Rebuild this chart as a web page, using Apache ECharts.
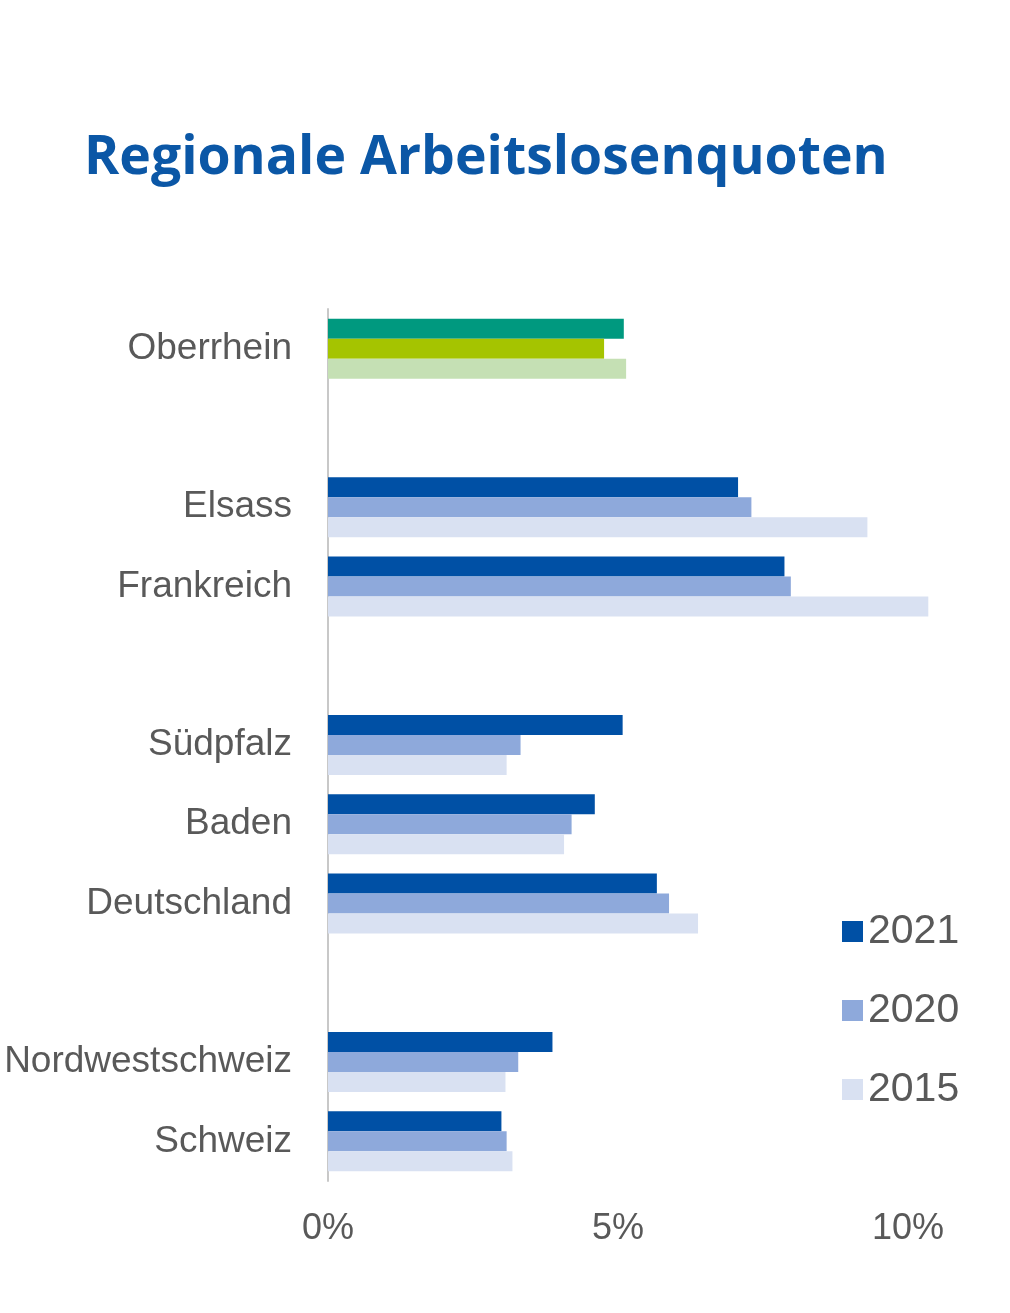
<!DOCTYPE html>
<html>
<head>
<meta charset="utf-8">
<script src="https://cdn.jsdelivr.net/npm/echarts@6/dist/echarts.min.js"></script>
<style>
  html, body { margin: 0; padding: 0; background: #fff; }
  #chart { width: 1010px; height: 1313px; }
</style>
</head>
<body>
<div id="chart"></div>
<script>
// empty strings are the gaps between the country groups
const regions = ['Oberrhein', '', 'Elsass', 'Frankreich', '', 'Südpfalz', 'Baden', 'Deutschland', '', 'Nordwestschweiz', 'Schweiz']
const years = ['2021', '2020', '2015']
const q2021 = [5.1, null, 7.07, 7.87, null, 5.08, 4.6, 5.67, null, 3.87, 2.99]
const q2020 = [4.76, null, 7.3, 7.98, null, 3.32, 4.2, 5.88, null, 3.28, 3.08]
const q2015 = [5.14, null, 9.3, 10.35, null, 3.08, 4.07, 6.38, null, 3.06, 3.18]
const xTicks = [0, 5, 10]

const colors = ['#0050A5', '#8EA9DB', '#D9E1F2']
const oberrheinColors = ['#00997F', '#A5C400', '#C5E0B4']

const textColor = '#595959'
const font = 'Liberation Sans, Arial, sans-serif'

const makeSeries = (name, values, i) => ({
    name,
    type: 'bar',
    barWidth: 20,
    barGap: '0%',
    data: values.map((v, k) => regions[k] === 'Oberrhein'
        ? { value: v, itemStyle: { color: oberrheinColors[i] } }
        : v),
    itemStyle: { color: colors[i] }
})

var myChart = echarts.init(document.getElementById('chart'))
var option = {
    animation: false,
    backgroundColor: '#fff',
    title: {
        text: 'Regionale Arbeitslosenquoten',
        left: 79,
        top: 127,
        textStyle: {
            fontFamily: 'Open Sans, sans-serif',
            fontWeight: 'bold',
            fontSize: 53.5,
            color: '#0B57A6'
        }
    },
    legend: {
        orient: 'vertical',
        left: 837,
        top: 906,
        itemWidth: 21,
        itemHeight: 21,
        itemGap: 38,
        icon: 'rect',
        data: years,
        textStyle: { fontFamily: font, fontSize: 41, color: textColor }
    },
    grid: { left: 328, right: 44, top: 309, bottom: 132 },
    xAxis: {
        type: 'value',
        min: 0,
        max: 11,
        interval: 5,
        splitLine: { show: false },
        axisLine: { show: false },
        axisTick: { show: false },
        axisLabel: {
            showMaxLabel: false,
            margin: 30,
            fontFamily: font,
            fontSize: 36,
            color: textColor,
            formatter: v => xTicks.includes(v) ? v + '%' : ''
        }
    },
    yAxis: {
        type: 'category',
        inverse: true,
        data: regions,
        axisLine: { show: true, lineStyle: { color: '#C8C8C8', width: 2 } },
        axisTick: { show: false },
        axisLabel: {
            margin: 36,
            fontFamily: font,
            fontSize: 37,
            color: textColor
        }
    },
    series: [
        makeSeries(years[0], q2021, 0),
        makeSeries(years[1], q2020, 1),
        makeSeries(years[2], q2015, 2)
    ]
}
myChart.setOption(option)
</script>
</body>
</html>
